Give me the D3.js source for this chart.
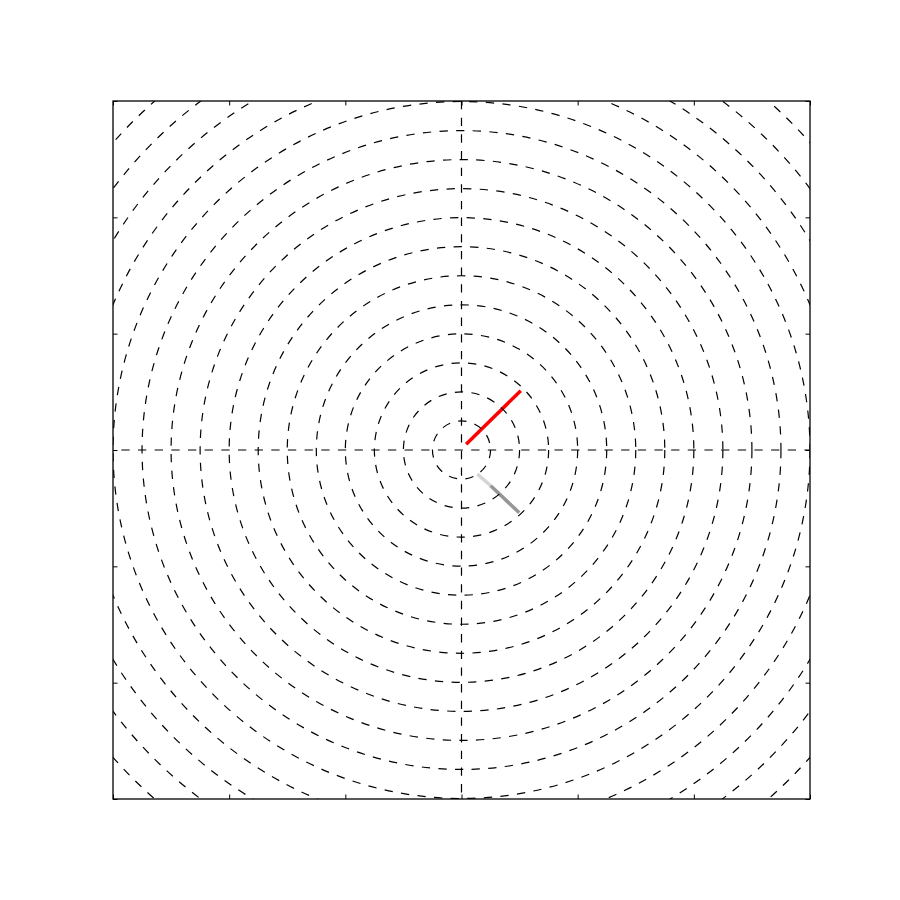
<!DOCTYPE html>
<html>
<head>
<meta charset="utf-8">
<script src="https://cdn.jsdelivr.net/npm/d3@7"></script>
<style>
  html, body { margin: 0; padding: 0; background: #fff; }
  svg { display: block; }
</style>
</head>
<body>
<svg id="chart" width="900" height="900"></svg>
<script>
// Data
const xDomain = [-3, 3];
const yDomain = [-3, 3];
const xTicks = [-3, -2, -1, 0, 1, 2, 3];
const yTicks = [-3, -2, -1, 0, 1, 2, 3];
const circleRadii = [0.25, 0.5, 0.75, 1, 1.25, 1.5, 1.75, 2, 2.25, 2.5, 2.75, 3, 3.25, 3.5, 3.75, 4, 4.25, 4.5];
const redLine = [[0.04, 0.05], [0.51, 0.51]];
const greySegments = [
  { pts: [[0.136, -0.206], [0.251, -0.307]], color: "#d4d4d4" },
  { pts: [[0.251, -0.307], [0.497, -0.539]], color: "#969696" }
];

(function () {
const mL = 113, mR = 810, mT = 101, mB = 799;
const svg = d3.select("#chart");
const x = d3.scaleLinear().domain(xDomain).range([mL, mR]);
const y = d3.scaleLinear().domain(yDomain).range([mB, mT]);

svg.append("defs").append("clipPath").attr("id", "clip")
  .append("rect").attr("x", mL).attr("y", mT)
  .attr("width", mR - mL).attr("height", mB - mT);

const plot = svg.append("g").attr("clip-path", "url(#clip)");
const dash = "8.33,8.33";

const line = d3.line().x(d => x(d[0])).y(d => y(d[1]));

// data lines
greySegments.forEach(s => {
  plot.append("path").attr("d", line(s.pts)).attr("fill", "none")
    .attr("stroke", s.color).attr("stroke-width", 3.5);
});
plot.append("path").attr("d", line(redLine)).attr("fill", "none")
  .attr("stroke", "#ff0000").attr("stroke-width", 3.5);

// center lines
plot.append("line").attr("x1", x(xDomain[0])).attr("x2", x(xDomain[1]))
  .attr("y1", y(0)).attr("y2", y(0))
  .attr("stroke", "#000").attr("stroke-width", 1.2).attr("stroke-dasharray", dash)
  .attr("stroke-dashoffset", 8.33);
plot.append("line").attr("y1", y(yDomain[1])).attr("y2", y(yDomain[0]))
  .attr("x1", x(0)).attr("x2", x(0))
  .attr("stroke", "#000").attr("stroke-width", 1.2).attr("stroke-dasharray", dash);

// circles
const pxPerUnit = x(1) - x(0);
plot.selectAll("circle.ring").data(circleRadii).enter().append("circle")
  .attr("class", "ring")
  .attr("cx", x(0)).attr("cy", y(0))
  .attr("r", d => d * pxPerUnit)
  .attr("fill", "none").attr("stroke", "#000").attr("stroke-width", 1.2)
  .attr("stroke-dasharray", dash);

// axes with inward ticks, no labels
const tl = 4.5;
const styleAxis = g => {
  g.select(".domain").remove();
  g.selectAll(".tick line").attr("stroke", "#000").attr("stroke-width", 1);
};
svg.append("g").attr("transform", `translate(0,${mB})`)
  .call(d3.axisTop(x).tickValues(xTicks).tickSize(tl).tickFormat(""))
  .call(styleAxis);
svg.append("g").attr("transform", `translate(0,${mT})`)
  .call(d3.axisBottom(x).tickValues(xTicks).tickSize(tl).tickFormat(""))
  .call(styleAxis);
svg.append("g").attr("transform", `translate(${mL},0)`)
  .call(d3.axisRight(y).tickValues(yTicks).tickSize(tl).tickFormat(""))
  .call(styleAxis);
svg.append("g").attr("transform", `translate(${mR},0)`)
  .call(d3.axisLeft(y).tickValues(yTicks).tickSize(tl).tickFormat(""))
  .call(styleAxis);

svg.append("rect").attr("x", mL).attr("y", mT)
  .attr("width", mR - mL).attr("height", mB - mT)
  .attr("fill", "none").attr("stroke", "#000").attr("stroke-width", 1.3);
})();
</script>
</body>
</html>
